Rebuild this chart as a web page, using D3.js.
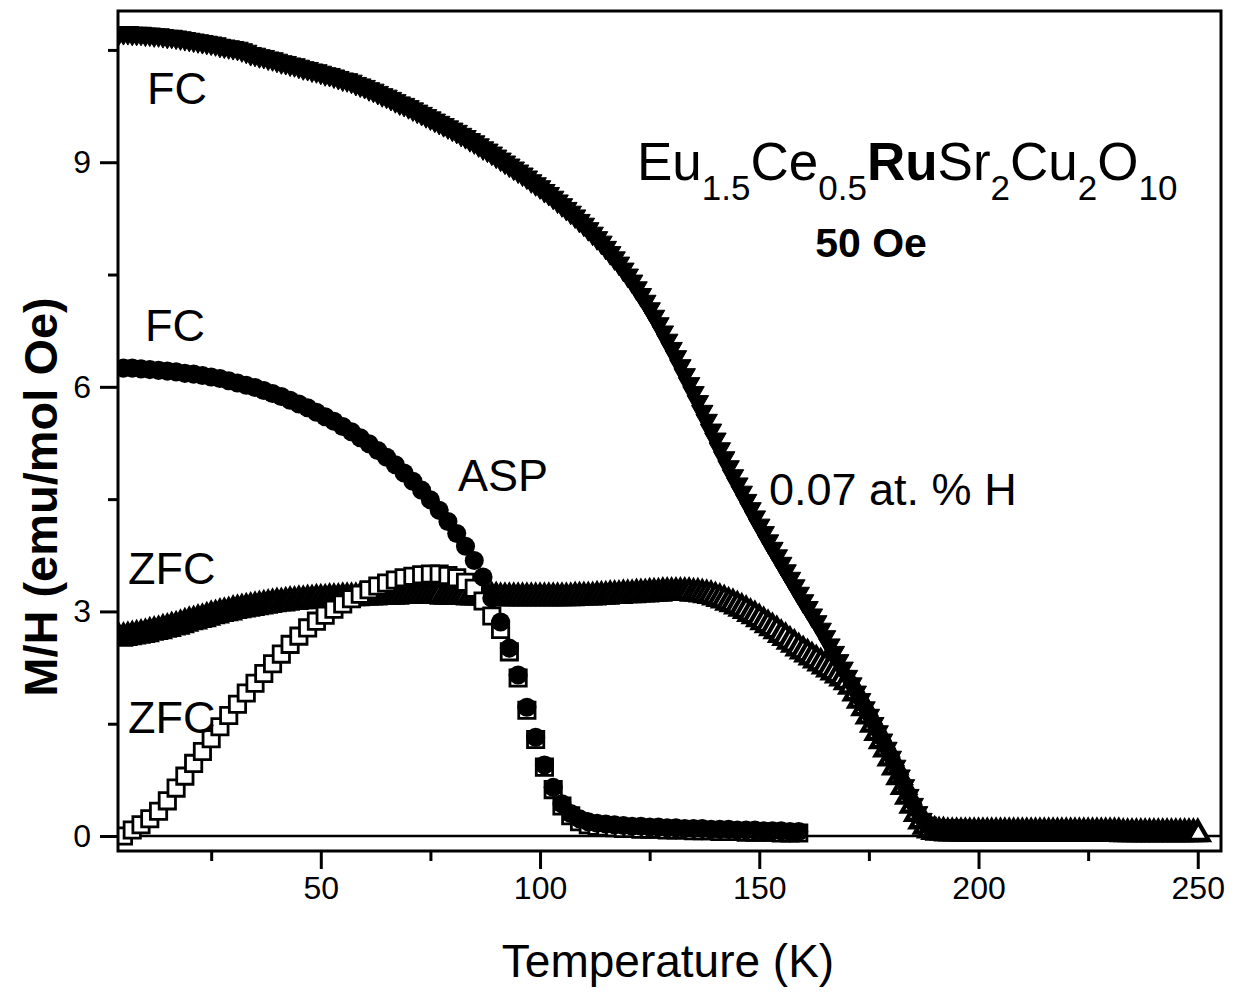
<!DOCTYPE html>
<html>
<head>
<meta charset="utf-8">
<script src="https://cdn.jsdelivr.net/npm/d3@7"></script>
<style>
  body { margin: 0; background: #fff; }
  svg { display: block; }
  text { font-family: "Liberation Sans", Arial, Helvetica, sans-serif; fill: #000; }
</style>
</head>
<body>
<svg id="chart" width="1240" height="992"></svg>
<script>
// Eu1.5Ce0.5RuSr2Cu2O10, M/H vs T at 50 Oe

// 0.07 at.% H sample, 1 K steps
const hStartT = 4;
const hFC = [
  10.73,10.73,10.73,10.72,10.72,10.72,
  10.71,10.71,10.70,10.70,10.69,10.68,10.68,10.67,10.66,10.65,
  10.64,10.63,10.62,10.61,10.60,10.59,10.58,10.56,10.55,10.54,
  10.53,10.52,10.50,10.48,10.45,10.44,10.42,10.41,10.39,10.38,
  10.36,10.34,10.33,10.31,10.30,10.28,10.26,10.25,10.23,10.22,
  10.20,10.18,10.17,10.15,10.13,10.11,10.10,10.08,10.05,10.03,
  10.01,9.98,9.96,9.93,9.90,9.88,9.85,9.82,9.79,9.77,
  9.74,9.71,9.68,9.65,9.62,9.59,9.56,9.53,9.50,9.47,
  9.44,9.41,9.37,9.34,9.30,9.27,9.23,9.19,9.16,9.12,
  9.08,9.04,9.00,8.96,8.92,8.88,8.84,8.80,8.75,8.71,
  8.67,8.62,8.58,8.53,8.48,8.43,8.38,8.33,8.28,8.22,
  8.17,8.11,8.05,7.99,7.93,7.86,7.79,7.72,7.65,7.57,
  7.49,7.41,7.32,7.23,7.14,7.04,6.94,6.84,6.73,6.62,
  6.51,6.40,6.28,6.16,6.04,5.92,5.80,5.67,5.55,5.42,
  5.30,5.17,5.05,4.93,4.81,4.70,4.59,4.48,4.37,4.26,
  4.15,4.05,3.94,3.84,3.74,3.64,3.54,3.44,3.34,3.24,
  3.14,3.05,2.95,2.86,2.76,2.66,2.55,2.45,2.34,2.24,
  2.13,2.03,1.92,1.82,1.71,1.61,1.50,1.39,1.28,1.17,
  1.05,0.93,0.80,0.67,0.54,0.42,0.31,0.22,0.17,0.14,
  0.13,0.13,0.13,0.13,0.13,0.13,0.13,0.12,0.12,0.12,
  0.12,0.12,0.12,0.12,0.12,0.11,0.11,0.11,0.11,0.11,
  0.11,0.11,0.11,0.11,0.11,0.11,0.11,0.11,0.11,0.11,
  0.11,0.11,0.10,0.10,0.10,0.10,0.10,0.10,0.10,0.10,
  0.10,0.10,0.10,0.10,0.10,0.10,0.10,0.10,0.10,0.10,
  0.10,0.10,0.09,0.09,0.09,0.09,0.09,0.09,0.09
];
const hZFC = [
  2.64,2.65,2.66,2.67,2.68,2.69,
  2.70,2.72,2.73,2.74,2.76,2.77,2.79,2.80,2.82,2.84,
  2.86,2.87,2.89,2.90,2.92,2.94,2.95,2.97,2.98,2.99,
  3.01,3.02,3.03,3.04,3.05,3.06,3.07,3.08,3.09,3.10,
  3.11,3.11,3.12,3.13,3.13,3.14,3.14,3.15,3.15,3.16,
  3.16,3.16,3.17,3.17,3.17,3.18,3.18,3.18,3.18,3.19,
  3.19,3.19,3.19,3.20,3.20,3.20,3.20,3.20,3.21,3.21,
  3.21,3.21,3.21,3.21,3.21,3.21,3.21,3.21,3.20,3.20,
  3.20,3.20,3.20,3.20,3.19,3.19,3.19,3.19,3.19,3.19,
  3.19,3.18,3.18,3.18,3.18,3.18,3.18,3.18,3.18,3.18,
  3.18,3.18,3.18,3.18,3.18,3.18,3.18,3.18,3.19,3.19,
  3.19,3.19,3.19,3.20,3.20,3.20,3.21,3.21,3.21,3.22,
  3.22,3.22,3.23,3.23,3.23,3.24,3.24,3.24,3.25,3.25,
  3.25,3.25,3.25,3.25,3.25,3.24,3.24,3.23,3.22,3.21,
  3.19,3.17,3.15,3.12,3.10,3.07,3.04,3.01,2.97,2.94,
  2.90,2.86,2.82,2.78,2.74,2.69,2.65,2.60,2.56,2.51,
  2.47,2.43,2.39,2.35,2.31,2.27,2.23,2.19,2.15,2.11,
  2.06,2.00,1.91,1.81,1.71,1.60,1.49,1.38,1.27,1.16,
  1.04,0.92,0.79,0.66,0.53,0.41,0.30,0.20,0.13,0.08,
  0.06,0.05,0.05,0.04,0.04,0.04,0.04,0.04,0.04,0.04,
  0.04,0.04,0.04,0.04,0.04,0.04,0.04,0.04,0.04,0.04,
  0.04,0.04,0.04,0.04,0.04,0.04,0.04,0.04,0.04,0.04,
  0.04,0.04,0.04,0.04,0.04,0.04,0.04,0.04,0.04,0.04,
  0.04,0.04,0.04,0.03,0.03,0.03,0.03,0.03,0.03,0.03,
  0.03,0.03,0.03,0.03,0.03,0.03,0.03,0.03,0.03,0.03,0.03
];

// as-prepared (ASP) sample, 2 K steps
const aspStartT = 5;
const aspZFC = [
  0.00,0.08,0.15,0.23,0.33,0.47,0.64,0.80,0.97,1.13,
  1.30,1.46,1.61,1.76,1.91,2.04,2.17,2.30,2.43,2.56,
  2.67,2.78,2.87,2.95,3.03,3.10,3.17,3.23,3.29,3.34,
  3.38,3.42,3.45,3.47,3.49,3.50,3.50,3.48,3.45,3.39,
  3.31,3.14,2.94,2.76,2.46,2.11,1.68,1.29,0.92,0.62,
  0.40,0.27,0.19,0.15,0.13,0.12,0.11,0.10,0.10,0.09,
  0.09,0.09,0.08,0.08,0.08,0.07,0.07,0.07,0.06,0.06,
  0.06,0.05,0.05,0.05,0.05,0.04,0.04,0.04
];
const aspFC = [
  6.25,6.25,6.24,6.23,6.22,6.21,6.20,6.18,6.17,6.15,
  6.13,6.11,6.08,6.05,6.02,5.99,5.95,5.91,5.87,5.82,
  5.77,5.72,5.66,5.60,5.54,5.47,5.40,5.32,5.24,5.15,
  5.06,4.96,4.85,4.74,4.62,4.49,4.35,4.20,4.04,3.87,
  3.68,3.46,3.18,2.86,2.51,2.15,1.72,1.32,0.95,0.65,
  0.43,0.30,0.23,0.19,0.17,0.16,0.15,0.14,0.13,0.13,
  0.12,0.12,0.11,0.11,0.10,0.10,0.10,0.09,0.09,0.09,
  0.08,0.08,0.08,0.07,0.07,0.07,0.06,0.06
];

const xMajorTicks = [50, 100, 150, 200, 250];
const xMinorTicks = [25, 75, 125, 175, 225];
const yMajorTicks = [0, 3, 6, 9];
const yMinorTicks = [1.5, 4.5, 7.5, 10.5];

const toPoints = (vals, t0, step) => vals.map((m, i) => ({ t: t0 + i * step, m }));

const svg = d3.select("#chart");
const L = 118, R = 1221, T = 11, B = 851;
const x = d3.scaleLinear().domain([3.75, 255.3]).range([L, R]);
const y = d3.scaleLinear().domain([-0.2, 11.02]).range([B, T]);

svg.append("defs").append("clipPath").attr("id", "plotClip")
  .append("rect").attr("x", L).attr("y", T).attr("width", R - L).attr("height", B - T);

const plot = svg.append("g").attr("clip-path", "url(#plotClip)");

// zero baseline
plot.append("line")
  .attr("x1", L).attr("x2", R).attr("y1", y(0)).attr("y2", y(0))
  .attr("stroke", "#000").attr("stroke-width", 2.5);

function drawSeries(points, symbolType, size, fill, strokeW, rotate) {
  const sym = d3.symbol().type(symbolType).size(size);
  plot.append("g").selectAll("path").data(points).join("path")
    .attr("d", sym)
    .attr("transform", d => `translate(${x(d.t)},${y(d.m)})` + (rotate ? ` rotate(${rotate})` : ""))
    .attr("fill", fill)
    .attr("stroke", "#000")
    .attr("stroke-width", strokeW)
    .attr("stroke-linejoin", "miter");
}

drawSeries(toPoints(hZFC, hStartT, 1), d3.symbolTriangle, 200, "#fff", 4.3, 0);
drawSeries(toPoints(hFC, hStartT, 1), d3.symbolTriangle, 200, "#000", 1, 180);
drawSeries(toPoints(aspZFC, aspStartT, 2), d3.symbolSquare, 265, "#fff", 2.8, 0);
drawSeries(toPoints(aspFC, aspStartT, 2), d3.symbolCircle, 285, "#000", 0, 0);

// frame
svg.append("rect").attr("x", L).attr("y", T).attr("width", R - L).attr("height", B - T)
  .attr("fill", "none").attr("stroke", "#000").attr("stroke-width", 3);

// axes
function styleAxis(g) {
  g.select(".domain").remove();
  g.selectAll(".tick line").attr("stroke", "#000").attr("stroke-width", 3);
  g.selectAll(".tick text").style("font-size", "32px").attr("fill", "#000")
    .style("font-family", "'Liberation Sans', Arial, sans-serif");
}
svg.append("g").attr("transform", `translate(0,${B + 1})`)
  .call(d3.axisBottom(x).tickValues(xMajorTicks).tickSize(17).tickPadding(7).tickFormat(d3.format("d")))
  .call(styleAxis);
svg.append("g").attr("transform", `translate(0,${B + 1})`)
  .call(d3.axisBottom(x).tickValues(xMinorTicks).tickSize(9).tickFormat(""))
  .call(styleAxis);
svg.append("g").attr("transform", `translate(${L - 1},0)`)
  .call(d3.axisLeft(y).tickValues(yMajorTicks).tickSize(17).tickPadding(9).tickFormat(d3.format("d")))
  .call(styleAxis);
svg.append("g").attr("transform", `translate(${L - 1},0)`)
  .call(d3.axisLeft(y).tickValues(yMinorTicks).tickSize(9).tickFormat(""))
  .call(styleAxis);

// axis titles
svg.append("text").attr("x", 668).attr("y", 977).attr("text-anchor", "middle")
  .style("font-size", "46px").text("Temperature (K)");
svg.append("text").attr("transform", "translate(57,497) rotate(-90)").attr("text-anchor", "middle")
  .style("font-size", "47px").style("font-weight", "bold").text("M/H (emu/mol Oe)");

// curve labels
const labels = [
  { text: "FC", x: 147, y: 104 },
  { text: "FC", x: 145, y: 341 },
  { text: "ZFC", x: 128, y: 584 },
  { text: "ZFC", x: 128, y: 733 },
  { text: "ASP", x: 458, y: 491 },
  { text: "0.07 at. % H", x: 769, y: 505 }
];
svg.append("g").selectAll("text").data(labels).join("text")
  .attr("x", d => d.x).attr("y", d => d.y).style("font-size", "45px").text(d => d.text);

// compound formula
const formula = [
  { s: "Eu" }, { s: "1.5", sub: true }, { s: "Ce" }, { s: "0.5", sub: true },
  { s: "Ru", bold: true }, { s: "Sr" }, { s: "2", sub: true }, { s: "Cu" },
  { s: "2", sub: true }, { s: "O" }, { s: "10", sub: true }
];
const ft = svg.append("text").attr("x", 637).attr("y", 180).style("font-size", "53px");
let prevSub = false;
formula.forEach(p => {
  const dy = p.sub && !prevSub ? 20 : (!p.sub && prevSub ? -20 : 0);
  ft.append("tspan").attr("dy", dy)
    .style("font-size", p.sub ? "35px" : "53px")
    .style("font-weight", p.bold ? "bold" : "normal")
    .text(p.s);
  prevSub = !!p.sub;
});
svg.append("text").attr("x", 871).attr("y", 257).attr("text-anchor", "middle")
  .style("font-size", "41px").style("font-weight", "bold").text("50 Oe");
</script>
</body>
</html>
